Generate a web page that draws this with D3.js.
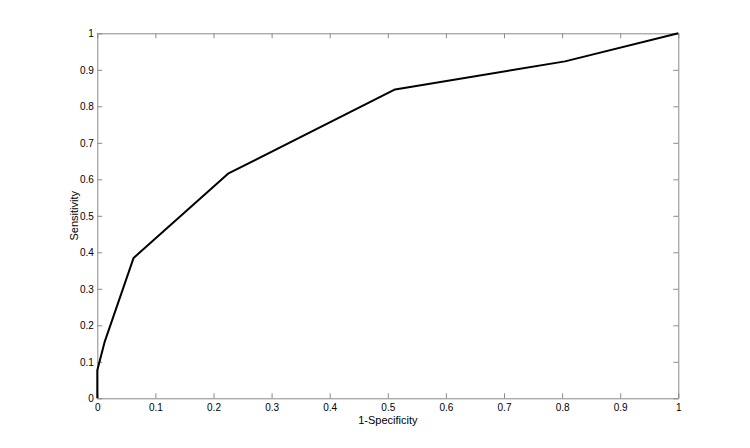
<!DOCTYPE html>
<html><head><meta charset="utf-8">
<script src="https://cdn.jsdelivr.net/npm/d3@7"></script>
<style>body{margin:0;background:#fff}svg{display:block}text{font-family:"Liberation Sans",Arial,Helvetica,sans-serif}</style>
</head><body><svg id="c" width="750" height="448"></svg>
<script>
const fpr = [0, 0, 0.0125, 0.0625, 0.225, 0.5125, 0.805, 1];
const tpr = [0, 0.0769, 0.1538, 0.3846, 0.6154, 0.8462, 0.9231, 1];
const tickValues = [0, 0.1, 0.2, 0.3, 0.4, 0.5, 0.6, 0.7, 0.8, 0.9, 1];
const xLabel = "1-Specificity";
const yLabel = "Sensitivity";

const L = 97.3, R = 678.3, T = 33.3, B = 398.3;
const svg = d3.select("#c");
const x = d3.scaleLinear().domain([0, 1]).range([L, R]);
const y = d3.scaleLinear().domain([0, 1]).range([B, T]);
const fmt = d => d === 0 ? "0" : d === 1 ? "1" : d3.format(".1f")(d);
const grey = "#8a8a8a";

function styleAxis(g, showText) {
  g.select(".domain").attr("stroke", grey).attr("stroke-width", 1);
  g.selectAll(".tick line").attr("stroke", grey);
  g.selectAll(".tick text").attr("fill", "#000").attr("font-size", "10px").style("display", showText ? null : "none");
}
svg.append("g").attr("transform", `translate(0,${B})`)
  .call(d3.axisBottom(x).tickValues(tickValues).tickFormat(fmt).tickSizeInner(-5).tickSizeOuter(0).tickPadding(6))
  .call(g => styleAxis(g, true));
svg.append("g").attr("transform", `translate(${L},0)`)
  .call(d3.axisLeft(y).tickValues(tickValues).tickFormat(fmt).tickSizeInner(-5).tickSizeOuter(0).tickPadding(3.5))
  .call(g => styleAxis(g, true));
svg.append("g").attr("transform", `translate(0,${T})`)
  .call(d3.axisTop(x).tickValues(tickValues).tickFormat("").tickSizeInner(-5).tickSizeOuter(0))
  .call(g => styleAxis(g, false));
svg.append("g").attr("transform", `translate(${R},0)`)
  .call(d3.axisRight(y).tickValues(tickValues).tickFormat("").tickSizeInner(-5).tickSizeOuter(0))
  .call(g => styleAxis(g, false));

const pts = fpr.map((f, i) => [f, tpr[i]]);
svg.append("path").datum(pts)
  .attr("fill", "none").attr("stroke", "#000").attr("stroke-width", 2).attr("stroke-linejoin", "round")
  .attr("d", d3.line().x(d => x(d[0])).y(d => y(d[1])));

svg.append("text").attr("x", (L + R) / 2).attr("y", 424).attr("text-anchor", "middle")
  .attr("font-size", "11px").text(xLabel);
svg.append("text").attr("transform", `translate(77.5,${(T + B) / 2}) rotate(-90)`).attr("text-anchor", "middle")
  .attr("font-size", "11px").text(yLabel);
</script></body></html>
